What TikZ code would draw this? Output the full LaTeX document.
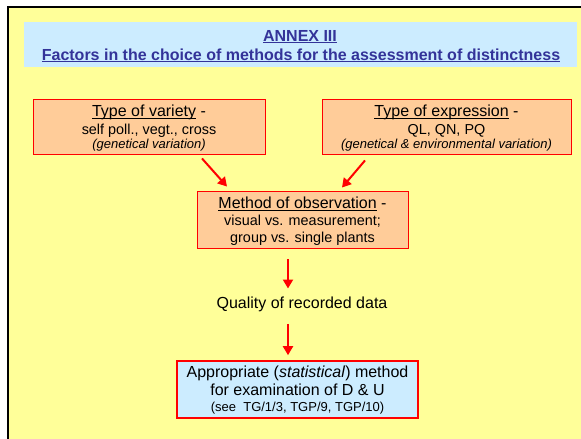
\documentclass[tikz,border=0pt]{standalone}
\usepackage{fontspec}
\setmainfont{Liberation Sans}
\usetikzlibrary{arrows.meta}

\definecolor{bgyellow}{HTML}{FFFF99}
\definecolor{bandblue}{HTML}{CCECFF}
\definecolor{titleblue}{HTML}{333399}
\definecolor{boxorange}{HTML}{FFCC99}
\definecolor{linered}{HTML}{FF0000}

% underline that sits just below the baseline (crossing descenders)
\newcommand\myul[2][0.8pt]{\setbox0\hbox{#2}\rlap{\rule[-2.4pt]{\wd0}{#1}}\box0\relax}
\newcommand\fs[1]{\fontsize{#1}{#1}\selectfont}

\begin{document}
\begin{tikzpicture}[x=1pt,y=-1pt,
  orangebox/.style={draw=linered, fill=boxorange, line width=0.9pt, inner sep=0pt},
  bluebox/.style={draw=linered, fill=bandblue, line width=1.6pt, inner sep=0pt},
  txt/.style={anchor=base, inner sep=0pt, text=black},
  titletxt/.style={anchor=base, inner sep=0pt, text=titleblue, font=\bfseries\fs{16}},
  arr/.style={draw=linered, line width=2pt, -{Triangle[length=9pt,width=10pt]}}]

\useasboundingbox (0,0) rectangle (581,439);
\fill[white] (0,0) rectangle (581,439);
\fill[bgyellow] (8,7) rectangle (581,439);
\draw[black, line width=2pt] (8,439) -- (8,7) -- (581,7);

% title band
\fill[bandblue] (24,22) rectangle (577,67);
\node[titletxt] (annex) at (300,41) {\myul[1.3pt]{ANNEX III}};
\node[titletxt] (factors) at (301,60) {\myul[1.3pt]{Factors in the choice of methods for the assessment of distinctness}};

% type of variety
\node[orangebox, minimum width=232pt, minimum height=55pt] (lv) at (149,126.5) {};
\node[txt, font=\fs{16}] (lv1) at (149,116.7) {\myul{Type of variety} -};
\node[txt, font=\fs{14.4}] (lv2) at (149,134.3) {self poll., vegt., cross};
\node[txt, font=\itshape\fs{13}] (lv3) at (149,148.5) {(genetical variation)};

% type of expression
\node[orangebox, minimum width=249pt, minimum height=55pt] (re) at (446.5,126.5) {};
\node[txt, font=\fs{16}] (re1) at (446.5,116.7) {\myul{Type of expression} -};
\node[txt, font=\fs{14.4}] (re2) at (446.5,134.3) {QL, QN, PQ};
\node[txt, font=\itshape\fs{13}] (re3) at (446.5,148.5) {(genetical \& environmental variation)};

% method of observation
\node[orangebox, minimum width=211pt, minimum height=57pt] (mb) at (302.5,219.5) {};
\node[txt, font=\fs{16}] (mb1) at (302.5,208.3) {\myul{Method of observation} -};
\node[txt, font=\fs{14.4}] (mb2) at (302.5,225.3) {visual vs. measurement;};
\node[txt, font=\fs{14.4}] (mb3) at (302.5,242.7) {group vs. single plants};

% recorded data
\node[txt, font=\fs{16}] (q) at (302,308.3) {Quality of recorded data};

% statistical method
\node[bluebox, minimum width=241pt, minimum height=57pt] (ab) at (297.5,389.5) {};
\node[txt, font=\fs{16}] (ab1) at (297.5,377.7) {Appropriate (\textit{statistical}) method};
\node[txt, font=\fs{16}] (ab2) at (297.5,395.7) {for examination of D \& U};
\node[txt, font=\fs{13}] (ab3) at (297.5,411.7) {(see\ \ TG/1/3, TGP/9, TGP/10)};

% connectors
\coordinate (ax) at (288,0);
\draw[arr] ([xshift=53pt,yshift=-4pt]lv.south) -- ([xshift=-75.5pt,yshift=4pt]mb.north);
\draw[arr] ([xshift=-81.5pt,yshift=-6pt]re.south) -- ([xshift=39.5pt,yshift=3pt]mb.north);
\draw[arr] ([yshift=-11pt]mb.south -| ax) -- ([yshift=8pt]q.north -| ax);
\draw[arr] ([yshift=-12pt]q.south -| ax) -- ([yshift=5pt]ab.north -| ax);
\end{tikzpicture}
\end{document}
